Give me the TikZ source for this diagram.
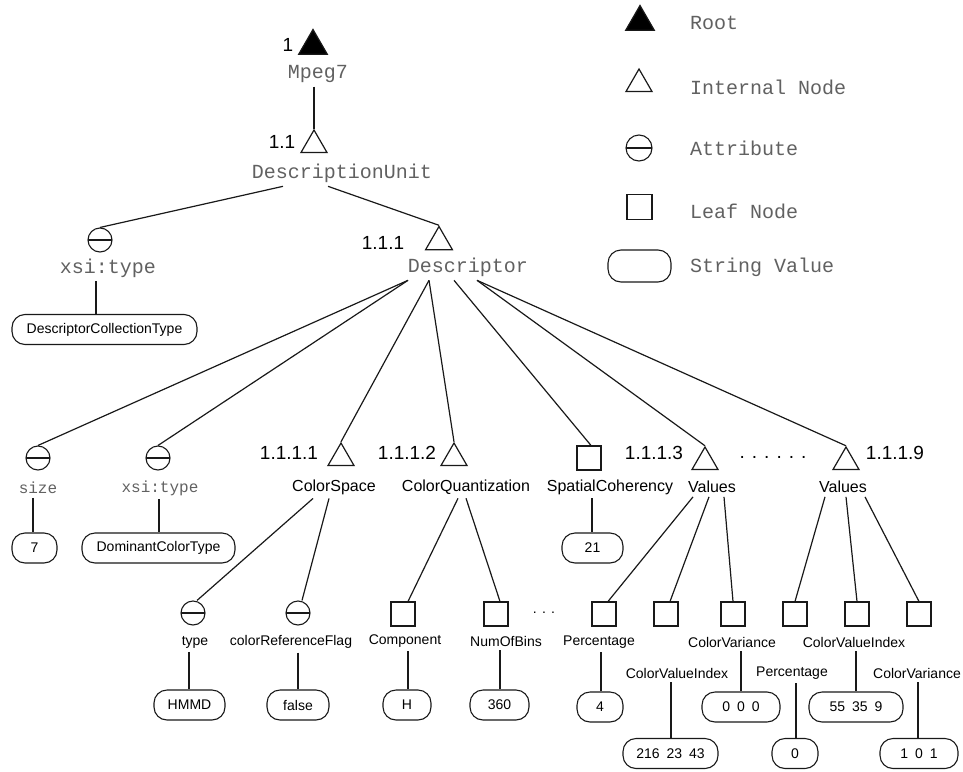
\documentclass[tikz,border=0pt]{standalone}
\usepackage{fontspec}
\setmainfont{Liberation Sans}
\setmonofont{Liberation Mono}
\usetikzlibrary{shapes.geometric, calc}

\begin{document}
\begin{tikzpicture}[x=1pt, y=-1pt]
  \colorlet{monocol}{black!62}
  \colorlet{linecol}{black!90}

  \tikzset{
    roottri/.style={
      regular polygon, regular polygon sides=3,
      minimum size=33pt, inner sep=0pt,
      draw=linecol, fill=black, line width=1.2pt
    },
    inttri/.style={
      regular polygon, regular polygon sides=3,
      minimum size=30pt, inner sep=0pt,
      draw=linecol, fill=white, line width=1.2pt
    },
    attr/.style={
      circle, minimum size=24pt, inner sep=0pt,
      draw=linecol, line width=1.1pt,
      path picture={\draw[line width=1.6pt] (path picture bounding box.west) -- (path picture bounding box.east);}
    },
    leaf/.style={
      rectangle, minimum size=24pt, inner sep=0pt,
      draw=linecol, line width=1.1pt
    },
    strval/.style={
      rectangle, rounded corners=13pt,
      minimum height=30pt, minimum width=#1, inner sep=0pt,
      draw=linecol, line width=1.1pt,
      font=\fontsize{14}{16}\selectfont
    },
    strval/.default=46pt,
    elem/.style={font=\ttfamily\fontsize{20}{22}\selectfont, text=monocol, inner sep=0pt, outer sep=4pt},
    selem/.style={font=\ttfamily\fontsize{16}{18}\selectfont, text=monocol, inner sep=0pt, outer sep=4pt},
    num/.style={font=\fontsize{19}{21}\selectfont, inner sep=0pt},
    mlbl/.style={font=\fontsize{16}{18}\selectfont, inner sep=0pt, outer sep=4pt},
    slbl/.style={font=\fontsize{14}{16}\selectfont, inner sep=0pt, outer sep=4pt},
    edge/.style={draw=linecol, line width=1.2pt}
  }

  \useasboundingbox (0,0) rectangle (963,771);

  % legend
  \node[roottri] (lgroot) at (640,22) {};
  \node[inttri] (lgint) at (639,84) {};
  \node[attr, minimum size=26pt] (lgattr) at (639,148) {};
  \node[leaf, minimum size=25pt] (lgleaf) at (639.5,207) {};
  \node[strval=63pt, minimum height=32pt] (lgstr) at (639.5,266) {};
  \node[elem, anchor=west] (lgroottxt) at (686,23) {Root};
  \node[elem, anchor=west] (lginttxt) at (686,87) {Internal Node};
  \node[elem, anchor=west] (lgattrtxt) at (686,148) {Attribute};
  \node[elem, anchor=west] (lglefttxt) at (686,211) {Leaf Node};
  \node[elem, anchor=west] (lgstrtxt) at (686,267) {String Value};

  % tree
  \node[roottri] (root) at (313,46) {};
  \node[num] (rootnum) at (288,45) {1};
  \node[elem] (mpeg) at (318,74) {Mpeg7};

  \node[inttri] (du) at (314,145) {};
  \node[num] (dunum) at (282,142) {1.1};
  \node[elem] (dulbl) at (342,173) {DescriptionUnit};

  \node[attr] (dutype) at (100,240) {};
  \node[elem] (dutypelbl) at (108,268) {xsi:type};
  \node[strval=185pt] (dctval) at (104.5,329.5) {DescriptorCollectionType};

  \node[inttri, minimum size=31pt] (desc) at (439,242) {};
  \node[num] (descnum) at (383,243) {1.1.1};
  \node[elem] (desclbl) at (468,267) {Descriptor};

  \node[attr] (size) at (38,458) {};
  \node[selem] (sizelbl) at (38,488) {size};
  \node[strval=45pt] (sizeval) at (34.5,548) {7};
  \node[attr] (dtype) at (158,458) {};
  \node[selem] (dtypelbl) at (160,488) {xsi:type};
  \node[strval=153pt] (dtypeval) at (158.5,548) {DominantColorType};

  \node[inttri] (cs) at (341,458) {};
  \node[num] (csnum) at (289,453) {1.1.1.1};
  \node[mlbl] (cslbl) at (334,487) {ColorSpace};
  \node[inttri] (cq) at (454,458) {};
  \node[num] (cqnum) at (407,453) {1.1.1.2};
  \node[mlbl] (cqlbl) at (466,487) {ColorQuantization};
  \node[leaf] (sc) at (589,458) {};
  \node[mlbl] (sclbl) at (610,487) {SpatialCoherency};
  \node[strval=61pt] (scval) at (592.5,548) {21};
  \node[inttri] (va) at (705,462) {};
  \node[num] (vanum) at (654,453) {1.1.1.3};
  \node[mlbl] (valbl) at (712,487) {Values};
  \node[num] (vdots) at (773,457) {. . . . . .};
  \node[inttri] (vb) at (846,462) {};
  \node[num] (vbnum) at (895,453) {1.1.1.9};
  \node[mlbl] (vblbl) at (843,487) {Values};

  \node[attr] (cstype) at (193,613) {};
  \node[slbl] (cstypelbl) at (195,642) {type};
  \node[strval=71pt] (hmmd) at (189.5,705) {HMMD};
  \node[attr] (csflag) at (298,613) {};
  \node[slbl] (csflaglbl) at (291,642) {colorReferenceFlag};
  \node[strval=62pt] (flagval) at (298,705) {false};

  \node[leaf] (comp) at (403,614) {};
  \node[slbl] (complbl) at (405,641) {Component};
  \node[strval=48pt] (compval) at (407,705) {H};
  \node[leaf] (bins) at (496,614) {};
  \node[slbl] (binslbl) at (506,641) {NumOfBins};
  \node[strval=59pt] (binsval) at (499.5,705) {360};
  \node[slbl] (qdots) at (544,613) {. . .};

  \node[leaf] (vapct) at (604,614) {};
  \node[leaf] (vacvi) at (666,614) {};
  \node[leaf] (vacvar) at (733,614) {};
  \node[leaf] (vbpct) at (795,614) {};
  \node[leaf] (vbcvi) at (857,614) {};
  \node[leaf] (vbcvar) at (919,614) {};
  \node[slbl] (vapctlbl) at (599,642) {Percentage};
  \node[slbl] (vacvilbl) at (677,673) {ColorValueIndex};
  \node[slbl] (vacvarlbl) at (732,642) {ColorVariance};
  \node[slbl] (vbpctlbl) at (792,673) {Percentage};
  \node[slbl] (vbcvilbl) at (854,642) {ColorValueIndex};
  \node[slbl] (vbcvarlbl) at (917,673) {ColorVariance};
  \node[strval=46pt] (vapctval) at (600,707) {4};
  \node[strval=95pt] (vacvival) at (670.5,753.5) {216\enspace23\enspace43};
  \node[strval=78pt] (vacvarval) at (741,707) {0\enspace0\enspace0};
  \node[strval=46pt] (vbpctval) at (795,753.5) {0};
  \node[strval=94pt] (vbcvival) at (856,707) {55\enspace35\enspace9};
  \node[strval=78pt] (vbcvarval) at (919,753.5) {1\enspace0\enspace1};

  \draw[edge] ([xshift=-4pt]mpeg.south) -- (du.corner 1);
  \draw[edge] ([xshift=-59pt]dulbl.south) -- (dutype.north);
  \draw[edge] ([xshift=-14pt]dulbl.south) -- (desc.corner 1);
  \draw[edge] ([xshift=-12pt]dutypelbl.south) -- ([xshift=-12pt]dutypelbl.south |- dctval.north);

  \draw[edge] ([xshift=-60pt]desclbl.south) -- (size.north);
  \draw[edge] ([xshift=-60pt]desclbl.south) -- (dtype.north);
  \draw[edge] ([xshift=-39pt]desclbl.south) -- (cs.corner 1);
  \draw[edge] ([xshift=-39pt]desclbl.south) -- (cq.corner 1);
  \draw[edge] ([xshift=-14pt]desclbl.south) -- ([xshift=2pt]sc.north);
  \draw[edge] ([xshift=9pt]desclbl.south) -- (va.corner 1);
  \draw[edge] ([xshift=9pt]desclbl.south) -- (vb.corner 1);

  \draw[edge] ([xshift=-5pt]sizelbl.south) -- ([xshift=-5pt]sizelbl.south |- sizeval.north);
  \draw[edge] ([xshift=-1pt]dtypelbl.south) -- ([xshift=-1pt]dtypelbl.south |- dtypeval.north);
  \draw[edge] ([xshift=-18pt]sclbl.south) -- ([xshift=-18pt]sclbl.south |- scval.north);

  \draw[edge] ([xshift=-21pt]cslbl.south) -- ([xshift=4pt]cstype.north);
  \draw[edge] ([xshift=-5pt]cslbl.south) -- ([xshift=4pt]csflag.north);
  \draw[edge] ([xshift=-8pt]cqlbl.south) -- ([xshift=5pt]comp.north);
  \draw[edge] ([xshift=0pt]cqlbl.south) -- ([xshift=4pt]bins.north);
  \draw[edge] ([xshift=-19pt]valbl.south) -- ([xshift=4pt]vapct.north);
  \draw[edge] ([xshift=-3pt]valbl.south) -- ([xshift=4pt]vacvi.north);
  \draw[edge] ([xshift=12pt]valbl.south) -- (vacvar.north);
  \draw[edge] ([xshift=-18pt]vblbl.south) -- (vbpct.north);
  \draw[edge] ([xshift=3pt]vblbl.south) -- (vbcvi.north);
  \draw[edge] ([xshift=22pt]vblbl.south) -- (vbcvar.north);

  \draw[edge] ([xshift=-6pt]cstypelbl.south) -- ([xshift=-6pt]cstypelbl.south |- hmmd.north);
  \draw[edge] ([xshift=7pt]csflaglbl.south) -- ([xshift=7pt]csflaglbl.south |- flagval.north);
  \draw[edge] ([xshift=3pt]complbl.south) -- ([xshift=3pt]complbl.south |- compval.north);
  \draw[edge] ([xshift=-6pt]binslbl.south) -- ([xshift=-6pt]binslbl.south |- binsval.north);
  \draw[edge] ([xshift=2pt]vapctlbl.south) -- ([xshift=2pt]vapctlbl.south |- vapctval.north);
  \draw[edge] ([xshift=-6pt]vacvilbl.south) -- ([xshift=-6pt]vacvilbl.south |- vacvival.north);
  \draw[edge] ([xshift=9pt]vacvarlbl.south) -- ([xshift=9pt]vacvarlbl.south |- vacvarval.north);
  \draw[edge] ([xshift=4pt]vbpctlbl.south) -- ([xshift=4pt]vbpctlbl.south |- vbpctval.north);
  \draw[edge] ([xshift=2pt]vbcvilbl.south) -- ([xshift=2pt]vbcvilbl.south |- vbcvival.north);
  \draw[edge] ([xshift=1pt]vbcvarlbl.south) -- ([xshift=1pt]vbcvarlbl.south |- vbcvarval.north);
\end{tikzpicture}
\end{document}
